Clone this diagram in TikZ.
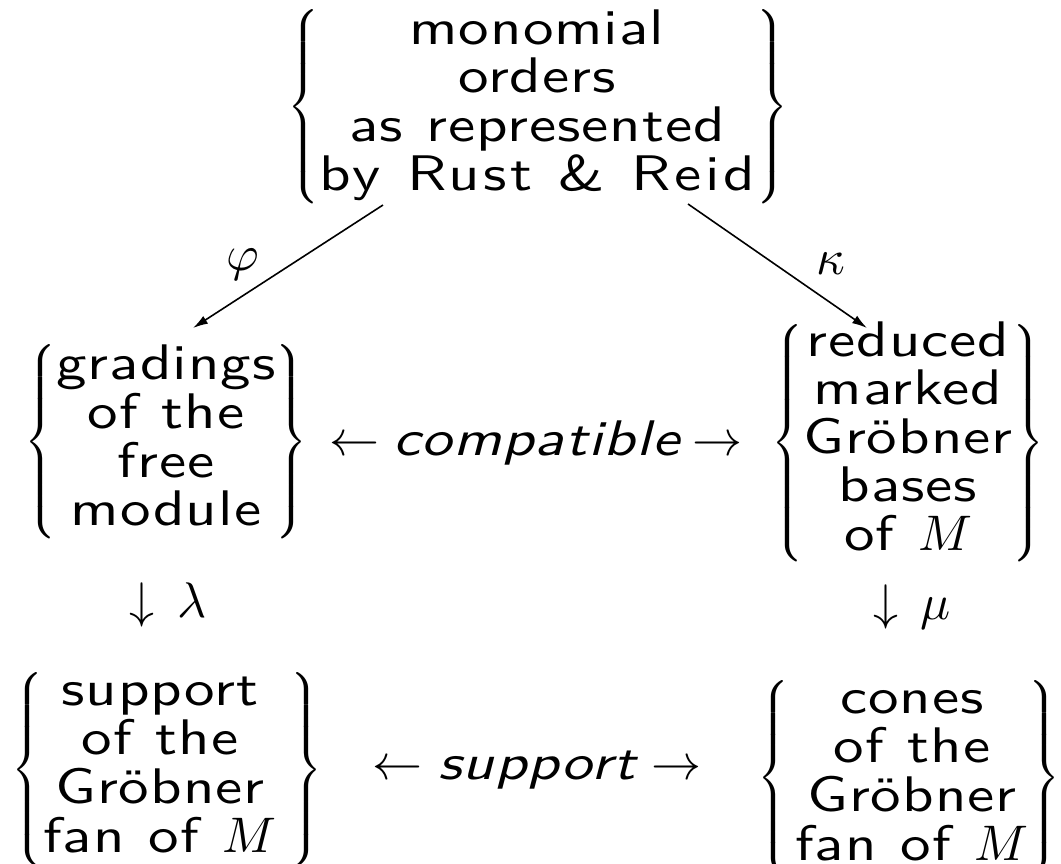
\documentclass[tikz,border=0pt]{standalone}
\DeclareFontShape{OML}{cmm}{m}{it}{<->cmmi10}{}
\DeclareFontShape{OMS}{cmsy}{m}{n}{<->cmsy10}{}
\DeclareFontShape{OMX}{cmex}{m}{n}{<->cmex10}{}
\DeclareFontShape{OT1}{cmr}{m}{n}{<->cmr10}{}
\usepackage{fontspec}
\setsansfont{lmsans10-regular.otf}[ItalicFont=lmsans10-oblique.otf, FakeStretch=1.22, LetterSpace=2, WordSpace=1.12]
\usetikzlibrary{arrows.meta}
\newcommand\stk[1]{\begin{tabular}{@{}c@{}}#1\end{tabular}}
\newcommand\bigtxt{\fontsize{50}{45}\selectfont\sffamily}
% braces set at a smaller math size (thinner strokes), text at 50pt
\newcommand\grp[3][0pt]{{\fontsize{36}{36}\selectfont$\left\{\hspace{#1}\vcenter{\hbox{\bigtxt\stk{#3}}}\hspace{#2}\right\}$}}
\tikzset{
  grp/.style={inner sep=0pt},
  lbl/.style={inner sep=0pt, font=\bigtxt},
  arr/.style={line width=1.6pt, -{Latex[length=15pt,width=9pt]}}
}
\begin{document}
\begin{tikzpicture}[x=1pt,y=-1pt]
\useasboundingbox (0,0) rectangle (1061,863);
\node[grp] (top) at (538,107) {\grp{2pt}{monomial\\orders\\as represented\\{\addfontfeature{LetterSpace=7}by Rust \& Reid}}};
\node[grp] (grad) at (166,442) {\grp{0pt}{gradings\\of the\\free\\module}};
\node[grp] (red) at (908,443) {\grp{0pt}{reduced\\marked\\Gröbner\\bases\\of $M$}};
\node[grp] (supp) at (167,770) {\grp{14pt}{support\\of the\\Gröbner\\fan of $M$}};
\node[grp] (cone) at (909,778) {\grp[6pt]{0pt}{cones\\of the\\Gröbner\\fan of $M$}};
\node[lbl] (compat) at (536,443) {$\leftarrow$\hspace{14pt}\textit{compatible}\hspace{10pt}$\rightarrow$};
\node[lbl] (suppl) at (537,770) {$\leftarrow$\hspace{16pt}\textit{support}\hspace{12pt}$\rightarrow$};
\node[lbl] (lam) at (168,605) {$\downarrow\,\lambda$};
\node[lbl] (mu) at (912,607) {$\downarrow\,\mu$};
\coordinate (a1) at (383,205);
\coordinate (a2) at (193,328);
\coordinate (b1) at (688,204);
\coordinate (b2) at (867,328);
\draw[arr] (a1) -- (a2);
\draw[arr] (b1) -- (b2);
\node[lbl] (phi) at (243,265) {$\varphi$};
\node[lbl] (kap) at (831,264) {$\kappa$};
\end{tikzpicture}
\end{document}
